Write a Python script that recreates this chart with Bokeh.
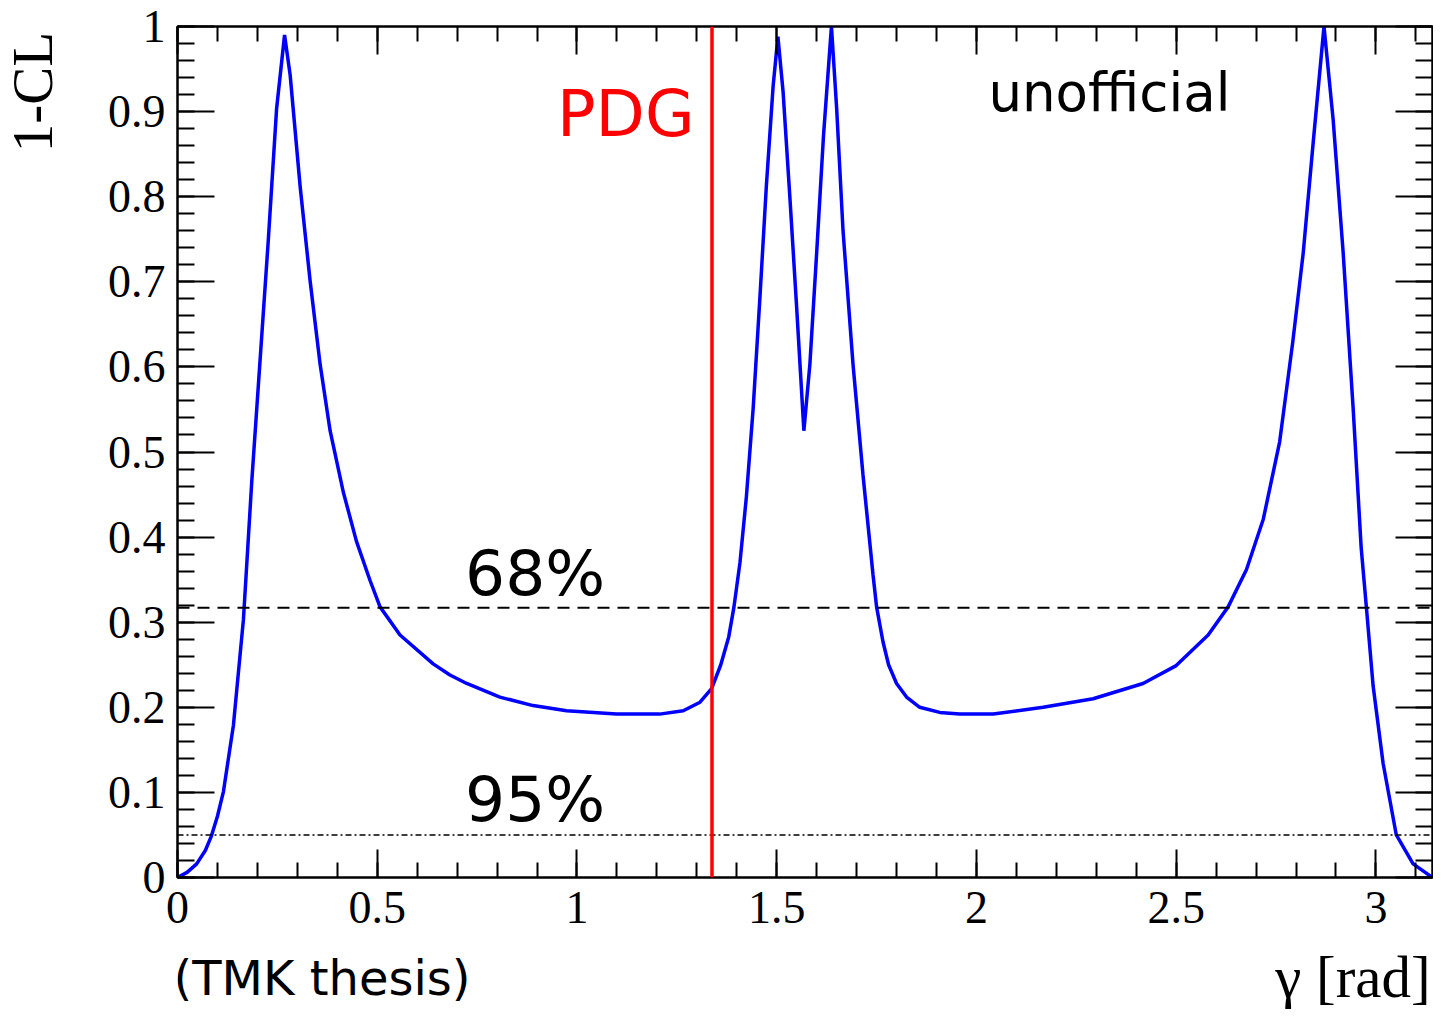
from bokeh.plotting import figure
from bokeh.layouts import column, row
from bokeh.models import (Range1d, LinearAxis, FixedTicker, CustomJSTickFormatter,
                          Span, Label)
from bokeh.embed import file_html
from bokeh.resources import INLINE

# ---- data ----
gamma = [0.000, 0.024, 0.048, 0.070, 0.085, 0.100, 0.115, 0.140, 0.165, 0.186,
         0.206, 0.227, 0.248, 0.268, 0.282, 0.307, 0.332, 0.357, 0.382, 0.415,
         0.448, 0.482, 0.507, 0.557, 0.640, 0.682, 0.724, 0.807, 0.890, 0.974,
         1.099, 1.207, 1.266, 1.308, 1.337, 1.360, 1.380, 1.393, 1.408, 1.424,
         1.441, 1.458, 1.474, 1.491, 1.503, 1.516, 1.533, 1.550, 1.568, 1.583,
         1.600, 1.617, 1.637, 1.650, 1.666, 1.691, 1.716, 1.741, 1.750, 1.766,
         1.780, 1.800, 1.825, 1.858, 1.908, 1.958, 2.042, 2.167, 2.292, 2.417,
         2.500, 2.580, 2.630, 2.676, 2.718, 2.759, 2.792, 2.818, 2.843, 2.870,
         2.893, 2.918, 2.943, 2.963, 2.976, 2.993, 3.018, 3.051, 3.093, 3.1416]
one_minus_cl = [0.000, 0.006, 0.016, 0.032, 0.049, 0.072, 0.101, 0.179, 0.303, 0.466,
                0.603, 0.747, 0.903, 0.990, 0.943, 0.812, 0.701, 0.603, 0.525, 0.453,
                0.395, 0.349, 0.318, 0.285, 0.251, 0.238, 0.228, 0.212, 0.202, 0.196,
                0.192, 0.192, 0.196, 0.206, 0.222, 0.250, 0.283, 0.318, 0.370, 0.447,
                0.551, 0.682, 0.812, 0.930, 0.988, 0.923, 0.799, 0.669, 0.525, 0.603,
                0.734, 0.871, 1.000, 0.904, 0.760, 0.603, 0.473, 0.356, 0.318, 0.277,
                0.250, 0.228, 0.212, 0.200, 0.194, 0.192, 0.192, 0.200, 0.210, 0.228,
                0.249, 0.285, 0.318, 0.362, 0.421, 0.512, 0.630, 0.734, 0.864, 1.000,
                0.890, 0.734, 0.551, 0.388, 0.318, 0.225, 0.134, 0.050, 0.016, 0.000]

x_major_ticks = [0, 0.5, 1, 1.5, 2, 2.5, 3]
x_minor_ticks = [round(0.1 * i, 1) for i in range(32)]
y_major_ticks = [round(0.1 * i, 1) for i in range(11)]
y_minor_ticks = [round(0.02 * i, 2) for i in range(51)]
pdg_gamma = 1.338
cl68_level = 0.317
cl95_level = 0.05

SERIF = "Liberation Serif"
SANS = "DejaVu Sans"

W = 1433
LEFT_W = 60
MAIN_H = 947
STRIP_H = 62

p = figure(width=W - LEFT_W, height=MAIN_H, x_range=Range1d(0, 3.1416),
           y_range=Range1d(0, 1), x_axis_type=None, y_axis_type=None,
           output_backend="svg", toolbar_location=None,
           min_border_left=177 - LEFT_W, min_border_right=1,
           min_border_top=26, min_border_bottom=70)
p.outline_line_color = "black"
p.outline_line_width = 2
p.background_fill_color = "white"
p.border_fill_color = "white"

fmt = CustomJSTickFormatter(code="return String(Math.round(tick*100)/100);")
blank = CustomJSTickFormatter(code="return '';")


def make_axis(horizontal, labelled):
    ticker = FixedTicker(ticks=x_major_ticks if horizontal else y_major_ticks,
                         minor_ticks=x_minor_ticks if horizontal else y_minor_ticks)
    ax = LinearAxis(ticker=ticker, formatter=fmt if labelled else blank)
    ax.axis_line_color = "black"
    ax.axis_line_width = 2
    ax.major_tick_line_color = "black"
    ax.major_tick_line_width = 2
    ax.minor_tick_line_color = "black"
    ax.minor_tick_line_width = 2
    ax.major_tick_out = 0
    ax.minor_tick_out = 0
    ax.major_tick_in = 28 if horizontal else 37
    ax.minor_tick_in = 15 if horizontal else 17
    ax.major_label_text_font = SERIF
    ax.major_label_text_font_size = "46px" if labelled else "0px"
    ax.major_label_text_color = "black"
    ax.major_label_standoff = (14 if horizontal else 12) if labelled else 0
    return ax


p.add_layout(make_axis(True, True), "below")
p.add_layout(make_axis(False, True), "left")
p.add_layout(make_axis(True, False), "above")
p.add_layout(make_axis(False, False), "right")

# confidence-level lines
p.add_layout(Span(location=cl68_level, dimension="width", line_color="black",
                  line_width=2, line_dash="12 8"))
p.add_layout(Span(location=cl95_level, dimension="width", line_color="black",
                  line_width=1.5, line_dash="6 3 2 3"))

# profile curve
p.line(gamma, one_minus_cl, line_color="#0000ff", line_width=3.5)

# PDG line
p.add_layout(Span(location=pdg_gamma, dimension="height", line_color="red",
                  line_width=3.5))

# texts inside the frame
p.add_layout(Label(x=0.950, y=0.897, text="PDG", text_color="red", text_font=SANS,
                   text_font_size="64px", text_baseline="alphabetic"))
p.add_layout(Label(x=0.720, y=0.357, text="68%", text_color="black", text_font=SANS,
                   text_font_size="63px", text_baseline="alphabetic"))
p.add_layout(Label(x=0.720, y=0.092, text="95%", text_color="black", text_font=SANS,
                   text_font_size="63px", text_baseline="alphabetic"))
p.add_layout(Label(x=2.030, y=0.923, text="unofficial", text_color="black", text_font=SANS,
                   text_font_size="53px", text_baseline="alphabetic"))

# left strip holding the y title
ls = figure(width=LEFT_W, height=MAIN_H, x_range=Range1d(0, LEFT_W),
            y_range=Range1d(0, MAIN_H), x_axis_type=None, y_axis_type=None,
            output_backend="svg", toolbar_location=None, min_border_left=0,
            min_border_right=0, min_border_top=0, min_border_bottom=0)
ls.outline_line_color = None
ls.background_fill_color = "white"
ls.border_fill_color = "white"
ls.add_layout(Label(x=32, y=MAIN_H - 6, text="1-CL", text_color="black",
                    text_font=SERIF, text_font_size="57px", text_align="right",
                    text_baseline="alphabetic", angle=1.5708))

# strip below the plot for the bottom texts (shares the x scale)
s = figure(width=W, height=STRIP_H, x_range=p.x_range, y_range=Range1d(0, STRIP_H),
           x_axis_type=None, y_axis_type=None, output_backend="svg",
           toolbar_location=None, min_border_left=177, min_border_right=1,
           min_border_top=0, min_border_bottom=0)
s.outline_line_color = None
s.background_fill_color = "white"
s.border_fill_color = "white"
s.add_layout(Label(x=-0.010, y=32, text="(TMK thesis)", text_color="black",
                   text_font=SANS, text_font_size="48px", text_baseline="alphabetic"))
s.add_layout(Label(x=3.137, y=33, text="γ [rad]", text_color="black",
                   text_font=SERIF, text_font_size="59px", text_align="right",
                   text_baseline="alphabetic"))

layout = column(row(ls, p, spacing=0), s, spacing=0)
open("out.html", "w").write(file_html(layout, INLINE))
